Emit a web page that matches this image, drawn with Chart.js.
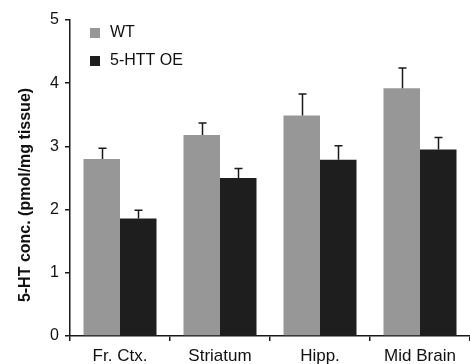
<!DOCTYPE html>
<html>
<head>
<meta charset="utf-8">
<script src="https://cdn.jsdelivr.net/npm/chart.js@4"></script>
<style>
  html, body { margin: 0; padding: 0; background: #fff; }
  #wrap { width: 470px; height: 364px; }
</style>
</head>
<body>
<div id="wrap"><canvas id="chart" width="470" height="364"></canvas></div>
<script>
const regions = ["Fr. Ctx.", "Striatum", "Hipp.", "Mid Brain"];
const wtValues = [2.80, 3.18, 3.49, 3.92];
const wtErr = [0.17, 0.19, 0.34, 0.32];
const oeValues = [1.86, 2.50, 2.79, 2.95];
const oeErr = [0.13, 0.15, 0.22, 0.19];
const yTicks = [0, 1, 2, 3, 4, 5];
const yTitle = "5-HT conc. (pmol/mg tissue)";

const FONT = "'Liberation Sans', Arial, sans-serif";

// draw upward error bars on top of each bar
const errorBarPlugin = {
  id: "errorBars",
  afterDatasetsDraw(chart) {
    const ctx = chart.ctx;
    const y = chart.scales.y;
    ctx.save();
    ctx.strokeStyle = "#1a1a1a";
    ctx.lineWidth = 1.5;
    chart.data.datasets.forEach((ds, i) => {
      const meta = chart.getDatasetMeta(i);
      meta.data.forEach((bar, j) => {
        const top = y.getPixelForValue(ds.data[j] + ds.errors[j]);
        const x = Math.round(bar.x) + 0.5;
        ctx.beginPath();
        ctx.moveTo(x, bar.y);
        ctx.lineTo(x, top);
        ctx.moveTo(x - 4, top);
        ctx.lineTo(x + 4, top);
        ctx.stroke();
      });
    });
    ctx.restore();
  },
};

// legend inside the plot (top left) and the y title, a bit lower than centre
const insideLegend = {
  id: "insideLegend",
  afterDraw(chart) {
    const ctx = chart.ctx;
    ctx.save();
    ctx.font = "16px " + FONT;
    ctx.textBaseline = "middle";
    chart.data.datasets.forEach((ds, i) => {
      const yy = 33 + i * 28;
      ctx.fillStyle = ds.backgroundColor;
      ctx.fillRect(90, yy - 5, 10, 10);
      ctx.fillStyle = "#111";
      ctx.fillText(ds.label, 110, yy);
    });

    ctx.translate(26, 195);
    ctx.rotate(-Math.PI / 2);
    ctx.font = "bold 16px " + FONT;
    ctx.textAlign = "center";
    ctx.fillStyle = "#111";
    ctx.fillText(yTitle, 0, 0);
    ctx.restore();
  },
};

new Chart(document.getElementById("chart").getContext("2d"), {
  type: "bar",
  data: {
    labels: regions,
    datasets: [
      {
        label: "WT",
        data: wtValues,
        errors: wtErr,
        backgroundColor: "#979797",
        categoryPercentage: 0.73,
        barPercentage: 1.0,
      },
      {
        label: "5-HTT OE",
        data: oeValues,
        errors: oeErr,
        backgroundColor: "#1e1e1e",
        categoryPercentage: 0.73,
        barPercentage: 1.0,
      },
    ],
  },
  options: {
    responsive: false,
    animation: false,
    layout: { padding: { top: 20, right: 0, left: 0, bottom: 0 } },
    plugins: {
      legend: { display: false },
      tooltip: { enabled: false },
    },
    scales: {
      x: {
        grid: {
          offset: true,
          drawOnChartArea: false,
          tickLength: 5,
          color: "#1a1a1a",
          lineWidth: 1.5,
        },
        border: { display: true, color: "#1a1a1a", width: 1.5 },
        ticks: {
          color: "#111",
          font: { family: FONT, size: 17 },
          padding: 5,
          maxRotation: 0,
        },
        afterFit(scale) {
          scale.height = 28;
        },
      },
      y: {
        min: 0,
        max: 5,
        afterBuildTicks(scale) {
          scale.ticks = yTicks.map((v) => ({ value: v }));
        },
        grid: {
          drawOnChartArea: false,
          tickLength: 5,
          color: "#1a1a1a",
          lineWidth: 1.5,
        },
        border: { display: true, color: "#1a1a1a", width: 1.5 },
        ticks: {
          color: "#111",
          font: { family: FONT, size: 16 },
          padding: 6,
        },
        afterFit(scale) {
          scale.width = 70;
        },
      },
    },
  },
  plugins: [errorBarPlugin, insideLegend],
});
</script>
</body>
</html>
